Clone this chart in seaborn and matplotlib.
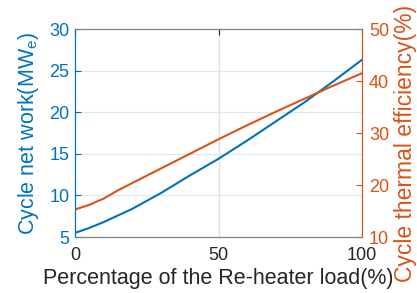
import matplotlib
matplotlib.use("Agg")
import matplotlib.pyplot as plt
import seaborn as sns
import pandas as pd

load_pct = [0, 5, 10, 15, 20, 30, 40, 50, 60, 70, 80, 90, 100]
net_work = [5.5, 6.1, 6.8, 7.6, 8.4, 10.3, 12.4, 14.4, 16.6, 18.9, 21.2, 23.7, 26.3]
efficiency = [15.3, 16.2, 17.4, 19.0, 20.4, 23.2, 26.0, 28.8, 31.5, 34.1, 36.6, 39.1, 41.5]

sns.set_style("white")
plt.rcParams['font.family'] = ['Liberation Sans', 'DejaVu Sans']
plt.rcParams['mathtext.fontset'] = 'custom'
plt.rcParams['mathtext.rm'] = 'Liberation Sans'

BLUE = "#0072BD"
ORANGE = "#D95319"

df = pd.DataFrame({"load": load_pct, "work": net_work, "eff": efficiency})

fig = plt.figure(figsize=(4.17, 2.93), dpi=100)
ax = fig.add_axes([0.180, 0.191, 0.688, 0.710])
ax2 = ax.twinx()

# grid
for v in [10, 15, 20, 25]:
    ax.axhline(v, color="#d9eaf5", lw=0.9, zorder=0)
ax.axvline(50, color="#dfdfdf", lw=0.9, zorder=0)

sns.lineplot(data=df, x="load", y="work", ax=ax, color=BLUE, lw=1.5)
sns.lineplot(data=df, x="load", y="eff", ax=ax2, color=ORANGE, lw=1.5)

ax.set_xlim(0, 100)
ax.set_ylim(5, 30)
ax2.set_ylim(10, 50)
ax.set_xticks([0, 50, 100])
ax.set_yticks([5, 10, 15, 20, 25, 30])
ax2.set_yticks([10, 20, 30, 40, 50])

tfs = 13
ax.set_xlabel("Percentage of the Re-heater load(%)", fontsize=15.5, color="#262626", labelpad=3)
ax.set_ylabel("Cycle net work(MW$_{\\mathrm{e}}$)", fontsize=15.5, color=BLUE, labelpad=6)
ax2.set_ylabel("Cycle thermal efficiency(%)", fontsize=16.5, color=ORANGE)
ax2.yaxis.set_label_coords(1.11, 0.45)

ax.tick_params(axis="x", direction="in", length=4, width=0.8, colors="#262626",
               labelsize=tfs, top=True, pad=7)
ax.tick_params(axis="y", direction="in", length=4, width=0.8, colors=BLUE,
               labelsize=tfs, pad=4)
ax2.tick_params(axis="y", direction="in", length=4, width=0.8, colors=ORANGE,
                labelsize=tfs, pad=5)

for a in (ax, ax2):
    a.spines["top"].set_color("#7f7f7f")
    a.spines["bottom"].set_color("#7f7f7f")
    a.spines["left"].set_color(BLUE)
    a.spines["right"].set_color(ORANGE)
    for s in a.spines.values():
        s.set_linewidth(0.8)
ax2.set_xlabel("")

fig.savefig("out.png", dpi=100)
